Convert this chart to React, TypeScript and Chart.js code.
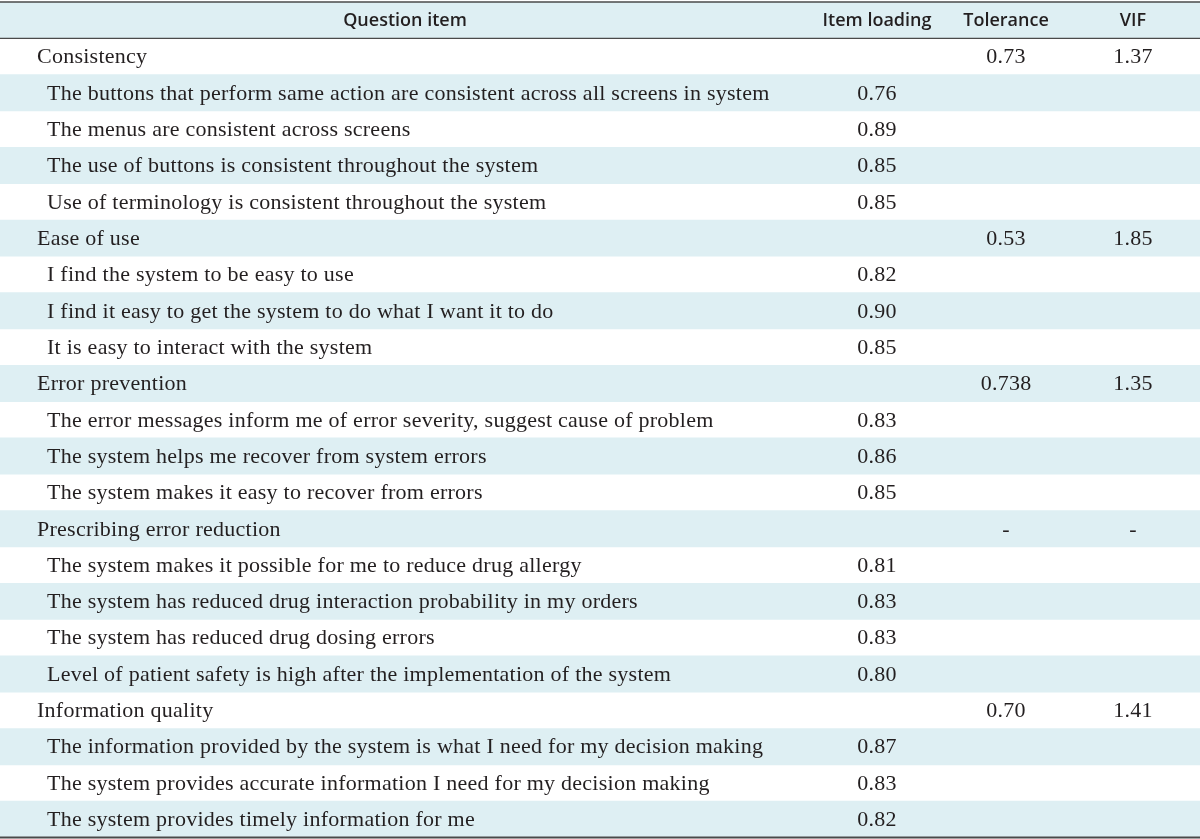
import React, { useEffect, useRef } from "react";
import { Chart, registerables } from "chart.js";

Chart.register(...registerables);

const headers = ["Question item", "Item loading", "Tolerance", "VIF"];

const questionItems = [
  "Consistency",
  "The buttons that perform same action are consistent across all screens in system",
  "The menus are consistent across screens",
  "The use of buttons is consistent throughout the system",
  "Use of terminology is consistent throughout the system",
  "Ease of use",
  "I find the system to be easy to use",
  "I find it easy to get the system to do what I want it to do",
  "It is easy to interact with the system",
  "Error prevention",
  "The error messages inform me of error severity, suggest cause of problem",
  "The system helps me recover from system errors",
  "The system makes it easy to recover from errors",
  "Prescribing error reduction",
  "The system makes it possible for me to reduce drug allergy",
  "The system has reduced drug interaction probability in my orders",
  "The system has reduced drug dosing errors",
  "Level of patient safety is high after the implementation of the system",
  "Information quality",
  "The information provided by the system is what I need for my decision making",
  "The system provides accurate information I need for my decision making",
  "The system provides timely information for me",
];

// 0 = construct (group) row, 1 = question row
const rowLevels = [0, 1, 1, 1, 1, 0, 1, 1, 1, 0, 1, 1, 1, 0, 1, 1, 1, 1, 0, 1, 1, 1];

const itemLoadings: (string | null)[] = [
  null, "0.76", "0.89", "0.85", "0.85",
  null, "0.82", "0.90", "0.85",
  null, "0.83", "0.86", "0.85",
  null, "0.81", "0.83", "0.83", "0.80",
  null, "0.87", "0.83", "0.82",
];

const tolerances: (string | null)[] = [
  "0.73", null, null, null, null,
  "0.53", null, null, null,
  "0.738", null, null, null,
  "-", null, null, null, null,
  "0.70", null, null, null,
];

const vifs: (string | null)[] = [
  "1.37", null, null, null, null,
  "1.85", null, null, null,
  "1.35", null, null, null,
  "-", null, null, null, null,
  "1.41", null, null, null,
];

const W = 1200;
const H = 839;

const SHADE = "rgb(222,239,243)";
const INK = "#231f20";
const RULE = "#4a4a4a";
const HEADER_FONT = "'Open Sans', 'Noto Sans', sans-serif";
const BODY_FONT = "'Liberation Serif', 'Times New Roman', serif";

const colCenters = [405, 877, 1006, 1133];
const groupIndent = 37;
const itemIndent = 47;

const tablePlugin = {
  id: "tableText",
  afterDatasetsDraw(chart: any) {
    const { ctx, chartArea, scales } = chart;
    const xs = scales.x;
    const ys = scales.y;
    const n = chart.data.labels.length;
    const rowH = (chartArea.bottom - chartArea.top) / n;

    ctx.save();
    // rules
    ctx.strokeStyle = RULE;
    ctx.lineWidth = 1.5;
    ctx.beginPath();
    ctx.moveTo(chartArea.left, chartArea.top);
    ctx.lineTo(chartArea.right, chartArea.top);
    ctx.stroke();
    ctx.lineWidth = 1.2;
    ctx.beginPath();
    ctx.moveTo(chartArea.left, chartArea.top + rowH);
    ctx.lineTo(chartArea.right, chartArea.top + rowH);
    ctx.stroke();
    ctx.lineWidth = 2.2;
    ctx.beginPath();
    ctx.moveTo(chartArea.left, chartArea.bottom);
    ctx.lineTo(chartArea.right, chartArea.bottom);
    ctx.stroke();

    ctx.fillStyle = INK;
    ctx.textBaseline = "middle";

    // header
    ctx.font = `600 18px ${HEADER_FONT}`;
    ctx.textAlign = "center";
    (ctx as any).letterSpacing = "0px";
    const hy = ys.getPixelForValue(0);
    headers.forEach((h, i) => {
      ctx.fillText(h, xs.getPixelForValue(colCenters[i]), hy + 1);
    });

    // body
    ctx.font = `22px ${BODY_FONT}`;
    (ctx as any).letterSpacing = "0.25px";
    questionItems.forEach((q, r) => {
      const y = ys.getPixelForValue(r + 1) + 1;
      ctx.textAlign = "left";
      ctx.fillText(q, xs.getPixelForValue(rowLevels[r] === 0 ? groupIndent : itemIndent), y);
      ctx.textAlign = "center";
      const cells = [itemLoadings[r], tolerances[r], vifs[r]];
      cells.forEach((c, ci) => {
        if (c !== null) ctx.fillText(c, xs.getPixelForValue(colCenters[ci + 1]), y);
      });
    });
    ctx.restore();
  },
};

export default function App() {
  const ref = useRef<HTMLCanvasElement | null>(null);

  useEffect(() => {
    document.body.style.margin = "0";
    document.body.style.overflow = "hidden";
    const canvas = ref.current;
    if (!canvas) return;
    const labels = [headers[0], ...questionItems];
    const shading = labels.map((_, i) => (i % 2 === 0 ? [0, W] : null));
    const chart = new Chart(canvas, {
      type: "bar",
      data: {
        labels,
        datasets: [
          {
            data: shading as any,
            backgroundColor: SHADE,
            borderWidth: 0,
            barPercentage: 1,
            categoryPercentage: 1,
          },
        ],
      },
      options: {
        indexAxis: "y",
        responsive: false,
        animation: false,
        devicePixelRatio: 1,
        layout: { padding: { top: 2, bottom: 1.5, left: 0, right: 0 } },
        plugins: { legend: { display: false }, tooltip: { enabled: false } },
        scales: {
          x: { type: "linear", min: 0, max: W, display: false },
          y: { type: "category", display: false, offset: true },
        },
      },
      plugins: [tablePlugin],
    });
    return () => chart.destroy();
  }, []);

  return <canvas ref={ref} width={W} height={H} style={{ display: "block" }} />;
}
